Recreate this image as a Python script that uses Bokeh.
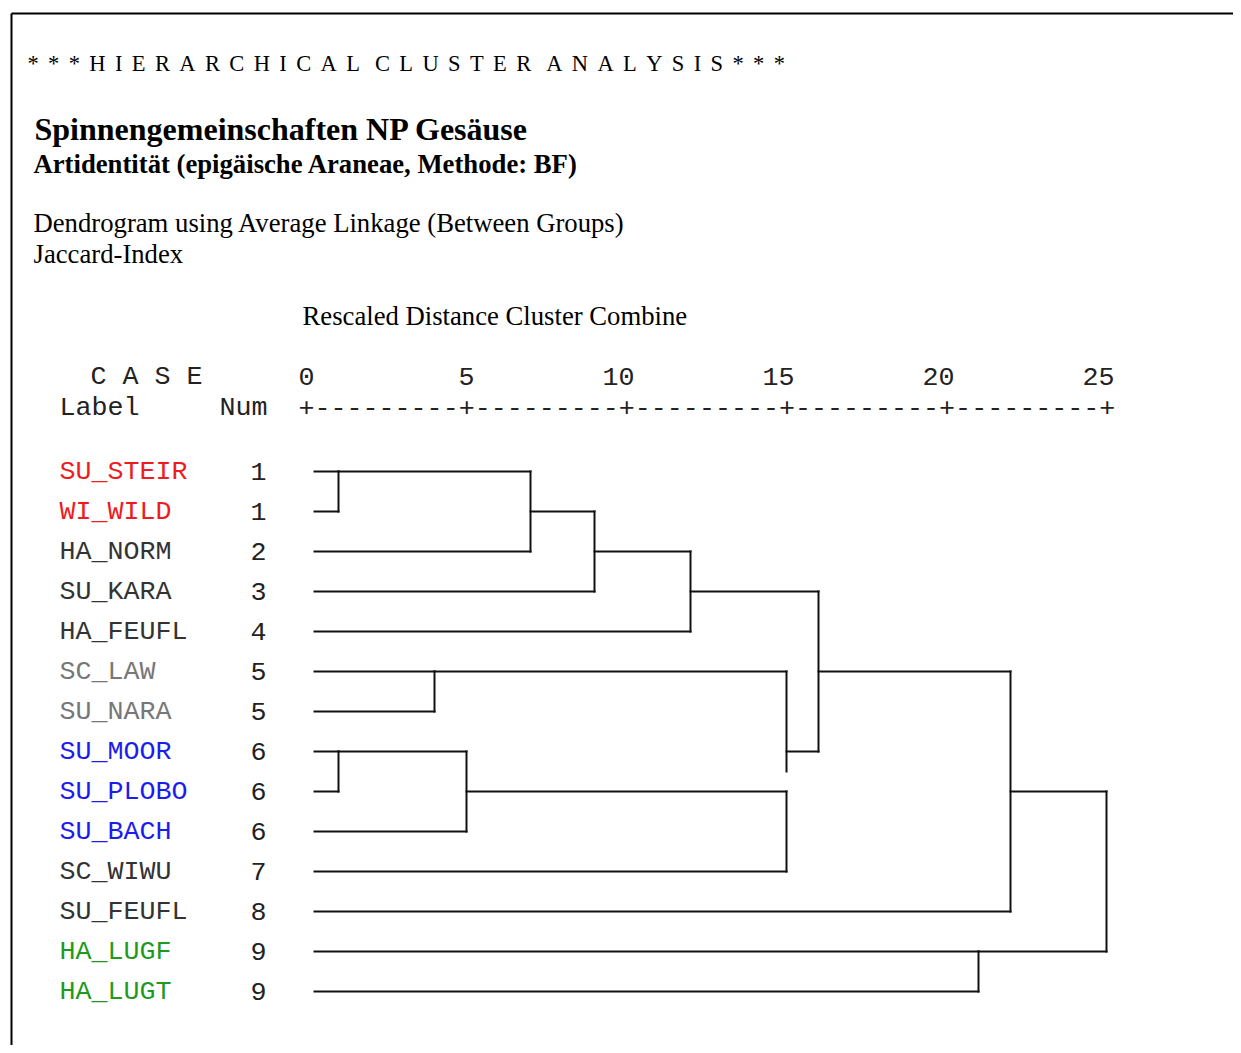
from bokeh.plotting import figure
from bokeh.models import Range1d, ColumnDataSource
from bokeh.embed import file_html
from bokeh.resources import INLINE
from bokeh.core.properties import value

# ---------------- data ----------------
case_labels = ["SU_STEIR", "WI_WILD", "HA_NORM", "SU_KARA", "HA_FEUFL", "SC_LAW", "SU_NARA",
               "SU_MOOR", "SU_PLOBO", "SU_BACH", "SC_WIWU", "SU_FEUFL", "HA_LUGF", "HA_LUGT"]
case_nums = [1, 1, 2, 3, 4, 5, 5, 6, 6, 6, 7, 8, 9, 9]
label_colors = ["#ee1c1c", "#ee1c1c", "#333333", "#333333", "#333333", "#777777", "#777777",
                "#1c1cee", "#1c1cee", "#1c1cee", "#333333", "#333333", "#1e9a1e", "#1e9a1e"]
# merges: children are cluster ids (0..13 = cases, 14+ = earlier merges)
merge_children = [[0, 1], [14, 2], [15, 3], [16, 4], [5, 6], [7, 8], [19, 9],
                  [18, 20, 10], [17, 21], [22, 11], [12, 13], [23, 24]]
merge_distance = [1, 7, 9, 12, 4, 1, 5, 15, 16, 22, 21, 25]
axis_ticks = [0, 5, 10, 15, 20, 25]

# ---------------- layout ----------------
W, H = 1233, 1045
PX0 = 306      # px of distance 0
UNIT = 32      # px per rescaled distance unit
ROW0 = 471     # px of first case row
ROWH = 40
LEAF_START = 0.25

def X(px):
    return (px - PX0) / UNIT

def Y(py):
    return (py - ROW0) / ROWH

p = figure(width=W, height=H, x_range=Range1d(X(0), X(W)), y_range=Range1d(Y(H), Y(0)),
           output_backend="svg", toolbar_location=None, min_border=0,
           x_axis_type=None, y_axis_type=None)
p.grid.visible = False
p.outline_line_color = None
p.background_fill_color = "white"
p.border_fill_color = "white"

# border (top and left)
p.segment(x0=[X(11), X(11)], y0=[Y(13), Y(13)], x1=[X(1260), X(11)], y1=[Y(13), Y(1070)],
          line_color="black", line_width=2)

SERIF = value("Liberation Serif")
MONO = value("Liberation Mono")

def txt(x, y, s, font, size, style="normal", color="black", align="left"):
    p.text(x=[x], y=[y], text=[s], text_font=font, text_font_size=size, text_font_style=style,
           text_color=color, text_align=align, text_baseline="middle")

# headings
G = "\u00a0\u2006"
WG = "\u00a0\u00a0\u2006"
spaced = (G.join("***") + G + G.join("HIERARCHICAL") + WG + G.join("CLUSTER") + WG +
          G.join("ANALYSIS") + G + G.join("***"))
txt(X(27), Y(63), spaced, SERIF, "22.5px")
txt(X(34), Y(128), "Spinnengemeinschaften NP Gesäuse", SERIF, "32px", "bold")
txt(X(33), Y(163), "Artidentität (epigäische Araneae, Methode: BF)", SERIF, "26.7px", "bold")
txt(X(33), Y(222), "Dendrogram using Average Linkage (Between Groups)", SERIF, "26.7px")
txt(X(33), Y(253), "Jaccard-Index", SERIF, "26.7px")
txt(X(302), Y(315), "Rescaled Distance Cluster Combine", SERIF, "26.7px")

# monospace header
MONO_SIZE = "26.7px"
HDR = "#222222"
txt(X(90), Y(376), "C A S E", MONO, MONO_SIZE, color=HDR)
txt(X(59), Y(407), "Label", MONO, MONO_SIZE, color=HDR)
txt(X(219), Y(407), "Num", MONO, MONO_SIZE, color=HDR)

# axis: tick numbers and +----+ ruler built from ticks
p.text(x=[t + 0.25 for t in axis_ticks], y=[Y(376)] * len(axis_ticks), text=[str(t) for t in axis_ticks],
       text_font=MONO, text_font_size=MONO_SIZE, text_color=HDR, text_align="right",
       text_baseline="middle")
ruler = "+" + ("-" * 9 + "+") * (len(axis_ticks) - 1)
p.text(x=[axis_ticks[0] - 0.25], y=[Y(407)], text=[ruler], text_font=MONO, text_font_size=MONO_SIZE,
       text_color=HDR, text_align="left", text_baseline="middle")

# case labels and numbers
rows = list(range(len(case_labels)))
p.text(x=[X(59)] * len(rows), y=rows, text=case_labels, text_font=MONO,
       text_font_size=MONO_SIZE, text_color=label_colors, text_align="left", text_baseline="middle")
p.text(x=[X(266)] * len(rows), y=rows, text=[str(n) for n in case_nums],
       text_font=MONO, text_font_size=MONO_SIZE, text_color=HDR, text_align="right",
       text_baseline="middle")

# dendrogram
n = len(case_labels)
start = {i: LEAF_START for i in range(n)}
out = {i: i for i in range(n)}
x0s, y0s, x1s, y1s = [], [], [], []
for k, (ch, d) in enumerate(zip(merge_children, merge_distance)):
    cid = n + k
    for c in ch:
        x0s.append(start[c]); y0s.append(out[c]); x1s.append(d); y1s.append(out[c])
    rs = sorted(out[c] for c in ch)
    mid = (rs[0] + rs[-1]) // 2
    if len(rs) == 2:
        x0s.append(d); y0s.append(rs[0]); x1s.append(d); y1s.append(rs[-1])
    else:
        x0s.append(d); y0s.append(rs[0]); x1s.append(d); y1s.append(mid + 0.5)
        x0s.append(d); y0s.append(rs[1]); x1s.append(d); y1s.append(rs[-1])
    start[cid] = d
    out[cid] = mid

src = ColumnDataSource(dict(x0=x0s, y0=y0s, x1=x1s, y1=y1s))
p.segment(x0="x0", y0="y0", x1="x1", y1="y1", source=src, line_color="#111111", line_width=2,
          line_cap="square")

open("out.html", "w").write(file_html(p, INLINE))
